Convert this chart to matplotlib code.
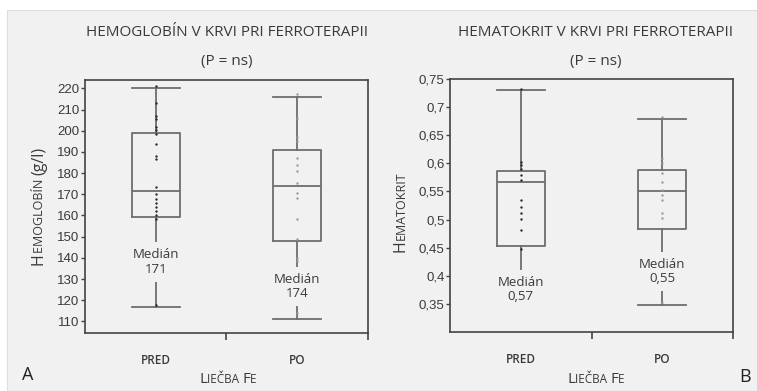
import numpy as np
import matplotlib
matplotlib.use("Agg")
from matplotlib import pyplot as plt
from matplotlib import font_manager
from matplotlib.patches import Rectangle

# Fonts
names = {f.name for f in font_manager.fontManager.ttflist}
TXT = "Open Sans" if "Open Sans" in names else "DejaVu Sans"
NUM = "Liberation Sans Narrow" if "Liberation Sans Narrow" in names else "Liberation Sans"

BG = "#f1f1f1"
INK = "#3a3a3a"
BOXC = "#6e6e6e"

groups = ["PRED", "PO"]

# Panel A: hemoglobin (g/l)
hb_whislo = [116.8, 110.9]
hb_q1 = [159.3, 147.8]
hb_med = [171.4, 173.8]
hb_q3 = [198.9, 190.8]
hb_whishi = [220.3, 216.2]
hb_median_txt = ["171", "174"]
hb_label_y = [138, 126.5]
hb_pts_pred = [221, 213, 207, 205.5, 202, 200.5, 198.5, 194, 188, 186.5,
               173.5, 170, 168, 166, 164, 162, 160, 158.5, 117.5]
hb_pts_po = [217.5, 206, 197, 195, 187, 184, 181, 175.5, 170.5, 168.5,
             158.5, 149, 140, 138.5, 114]
hb_ticks = list(range(110, 221, 10))

# Panel B: hematocrit
ht_whislo = [0.37, 0.348]
ht_q1 = [0.453, 0.483]
ht_med = [0.567, 0.551]
ht_q3 = [0.587, 0.588]
ht_whishi = [0.730, 0.678]
ht_median_txt = ["0,57", "0,55"]
ht_label_y = [0.376, 0.408]
ht_pts_pred = [0.733, 0.602, 0.597, 0.59, 0.579, 0.57, 0.535, 0.522, 0.512,
               0.501, 0.481, 0.447]
ht_pts_po = [0.682, 0.61, 0.6, 0.583, 0.567, 0.553, 0.544, 0.535, 0.512,
             0.503, 0.353]
ht_ticks = [0.35, 0.4, 0.45, 0.5, 0.55, 0.6, 0.65, 0.7, 0.75]


fig = plt.figure(figsize=(7.57, 3.91), dpi=100)
fig.patch.set_facecolor("white")
fig.patches.append(Rectangle((7 / 757, 0), 1, 381 / 391, transform=fig.transFigure,
                             facecolor=BG, edgecolor="#dedede", lw=0.8, zorder=-10))


def small_caps(x, y, parts, rot=0, color=INK):
    # place text pieces of different sizes next to each other (fake small caps)
    r = fig.canvas.get_renderer()
    W, H = fig.bbox.width, fig.bbox.height
    widths = []
    for s, fs in parts:
        t = fig.text(0, 0, s, fontsize=fs, family=TXT)
        widths.append(t.get_window_extent(r).width)
        t.remove()
    pos = -sum(widths) / 2
    for (s, fs), w in zip(parts, widths):
        if rot == 0:
            px, py = x * W + pos, y * H
        else:
            px, py = x * W, y * H + pos
        fig.text(px / W, py / H, s, fontsize=fs, family=TXT, color=color,
                 rotation=rot, rotation_mode="anchor", ha="left", va="baseline")
        pos += w


def panel(rect, lo, q1, med, q3, hi, pts_a, pts_b, med_txt, lab_y, ticks, ylim, fmt):
    ax = fig.add_axes(rect)
    ax.set_facecolor(BG)
    stats = [dict(med=med[i], q1=q1[i], q3=q3[i], whislo=lo[i], whishi=hi[i], fliers=[])
             for i in range(2)]
    lp = dict(color=BOXC, lw=1.3)
    ax.bxp(stats, positions=[0.5, 1.5], widths=0.34, capwidths=0.34,
           boxprops=lp, whiskerprops=lp, capprops=lp, medianprops=lp,
           showfliers=False, manage_ticks=False)
    ax.scatter(np.full(len(pts_a), 0.5), pts_a, s=3, color="#2a2a2a", zorder=3, lw=0)
    ax.scatter(np.full(len(pts_b), 1.5), pts_b, s=3, color="#9a9a9a", zorder=3, lw=0)
    for i in range(2):
        ax.text([0.5, 1.5][i], lab_y[i], "Medián\n" + med_txt[i], ha="center", va="center",
                fontsize=9.5, family=TXT, color=INK, linespacing=1.15, zorder=5,
                bbox=dict(boxstyle="square,pad=0.45", fc=BG, ec="none"))
    ax.set_xlim(0, 2)
    ax.set_ylim(*ylim)
    ax.set_xticks([1, 2])
    ax.set_xticklabels(["", ""])
    ax.set_xticks([0.5, 1.5], minor=True)
    ax.set_xticklabels(groups, minor=True, fontsize=8.5, family=TXT, color=INK,
                       fontweight="semibold")
    ax.tick_params(axis="x", which="major", direction="out", length=5, width=1.2, color="#444")
    ax.tick_params(axis="x", which="minor", length=0, pad=15)
    ax.set_yticks(ticks)
    ax.set_yticklabels([fmt(v) for v in ticks], fontsize=9.5, family=NUM, color=INK)
    ax.tick_params(axis="y", direction="out", length=3, width=1, color="#444", pad=1)
    for s in ax.spines.values():
        s.set_color("#444")
        s.set_linewidth(1.2)
    return ax


axA = panel([85 / 757, 58 / 391, 283 / 757, 253 / 391], hb_whislo, hb_q1, hb_med, hb_q3,
            hb_whishi, hb_pts_pred, hb_pts_po, hb_median_txt, hb_label_y, hb_ticks,
            (104.5, 224), lambda v: "%d" % v)
axB = panel([450 / 757, 59 / 391, 283 / 757, 253 / 391], ht_whislo, ht_q1, ht_med, ht_q3,
            ht_whishi, ht_pts_pred, ht_pts_po, ht_median_txt, ht_label_y, ht_ticks,
            (0.30, 0.75), lambda v: ("%g" % v).replace(".", ","))

# titles
for cx, t in [(227, "HEMOGLOBÍN V KRVI PRI FERROTERAPII"), (596, "HEMATOKRIT V KRVI PRI FERROTERAPII")]:
    fig.text(cx / 757, 1 - 33 / 391, t, ha="center", va="center", fontsize=11,
             family=TXT, color=INK)
    fig.text(cx / 757, 1 - 62 / 391, "(P = ns)", ha="center", va="center", fontsize=11,
             family=TXT, color=INK)

# axis labels in small caps
for cx in [228, 596]:
    small_caps(cx / 757, 1 - 383 / 391, [("L", 11), ("IEČBA ", 8.5), ("F", 11), ("E", 8.5)])
small_caps(43 / 757, 1 - 206 / 391, [("H", 11.5), ("EMOGLOBÍN ", 9), ("(g/l)", 11.5)], rot=90)
small_caps(405 / 757, 1 - 212 / 391, [("H", 11.5), ("EMATOKRIT", 9)], rot=90)

fig.text(22 / 757, 1 - 375 / 391, "A", fontsize=13, family=TXT, color="#222", va="center")
fig.text(739 / 757, 1 - 377 / 391, "B", fontsize=13, family=TXT, color="#222", va="center")

fig.savefig("out.png", dpi=100, facecolor=fig.get_facecolor())
